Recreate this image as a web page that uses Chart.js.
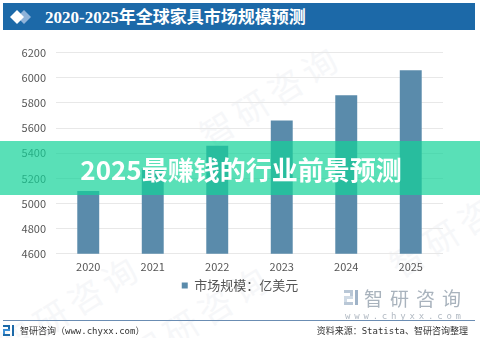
<!DOCTYPE html>
<html lang="zh-CN">
<head>
<meta charset="utf-8">
<title>2020-2025年全球家具市场规模预测</title>
<script src="https://cdn.jsdelivr.net/npm/chart.js@4/dist/chart.umd.min.js"></script>
<style>
  html, body { margin: 0; padding: 0; }
  body {
    width: 480px; height: 338px; position: relative; overflow: hidden;
    background: #fff; font-family: "Noto Sans CJK SC", "Noto Sans", sans-serif;
  }
  .title-bar {
    position: absolute; left: 3px; top: 3px; width: 472px; height: 27px;
    background: #1c69a8;
  }
  .title-bar svg { position: absolute; left: 7px; top: 7px; }
  .title-bar span {
    position: absolute; left: 42px; top: 0; line-height: 27px;
    color: #fff; font: bold 17px "Liberation Serif", "Noto Sans CJK SC", serif;
  }
  .wm {
    position: absolute; color: #f6f7f9; font-size: 34px; transform: rotate(-32deg);
    white-space: nowrap; letter-spacing: 6px;
  }
  #chart-wrap { position: absolute; left: 0; top: 36px; width: 480px; height: 266px; }
  .band {
    position: absolute; left: 0; top: 141px; width: 480px; height: 54px;
    background: rgba(18, 211, 152, 0.7);
    display: flex; align-items: center; justify-content: center;
  }
  .band span { color: #fff; font: bold 26px "Noto Sans CJK SC", sans-serif; margin-left: 2px; }
  .logo { position: absolute; left: 344px; top: 290px; }
  .logo-name {
    position: absolute; left: 364px; top: 288px; color: #a9b3bd;
    font-size: 19px; letter-spacing: 7px; line-height: 20px;
  }
  .logo-url {
    position: absolute; left: 345px; top: 311px; color: #b2bac3;
    font: 9px "DejaVu Sans Mono", monospace; letter-spacing: 3.8px;
  }
  .rule { position: absolute; left: 3px; top: 320px; width: 472px; height: 1px; background: #6b8db3; }
  .foot {
    position: absolute; top: 324px; line-height: 13px; color: #333;
    font: 9px "DejaVu Sans Mono", "Noto Sans CJK SC", monospace;
  }
</style>
</head>
<body>
  <div class="wm" style="left:-10px;top:280px;">智研咨询</div>
  <div class="wm" style="left:120px;top:290px;">智研咨询</div>
  <div class="wm" style="left:190px;top:70px;">智研咨询</div>
  <div class="wm" style="left:380px;top:200px;">智研咨询</div>

  <div class="title-bar">
    <svg width="26" height="14" viewBox="0 0 26 14">
      <polygon points="14,0 21,7 14,14 7,7" fill="#8fb3d9"/>
      <polygon points="7,0 14,7 7,14 0,7" fill="#fff"/>
    </svg>
    <span>2020-2025年全球家具市场规模预测</span>
  </div>

  <div id="chart-wrap"><canvas id="chart"></canvas></div>

  <svg class="logo" width="16" height="15" viewBox="0 0 16 15">
    <rect x="0" y="0" width="9" height="3" fill="#b9c7d6"/>
    <rect x="6" y="0" width="3" height="8" fill="#b9c7d6"/>
    <rect x="0" y="6" width="9" height="3" fill="#cfdae5"/>
    <rect x="0" y="6" width="3" height="9" fill="#cfdae5"/>
    <rect x="0" y="12" width="9" height="3" fill="#b9c7d6"/>
    <rect x="11" y="0" width="3" height="15" fill="#9fb3c8"/>
  </svg>
  <div class="logo-name">智研咨询</div>
  <div class="logo-url">www.chyxx.com</div>

  <div class="band"><span>2025最赚钱的行业前景预测</span></div>

  <div class="rule"></div>
  <svg style="position:absolute;left:3px;top:325px" width="12" height="11" viewBox="0 0 12 11">
    <rect x="0" y="0" width="7" height="2" fill="#1c69a8"/>
    <rect x="5" y="0" width="2" height="6" fill="#1c69a8"/>
    <rect x="0" y="4" width="7" height="2" fill="#3b8fd6"/>
    <rect x="0" y="4" width="2" height="7" fill="#3b8fd6"/>
    <rect x="0" y="9" width="7" height="2" fill="#1c69a8"/>
    <rect x="9" y="0" width="2" height="11" fill="#1c69a8"/>
  </svg>
  <div class="foot" style="left:20px;">智研咨询（www.chyxx.com）</div>
  <div class="foot" style="right:12px;">资料来源：Statista、智研咨询整理</div>

<script>
  'use strict';

  // ── Data ───────────────────────────────────────────────────────
  const years = ['2020', '2021', '2022', '2023', '2024', '2025'];
  const marketSize = [5100, 5280, 5460, 5660, 5860, 6060];   // 亿美元
  const seriesLabel = '市场规模：亿美元';
  const yMin = 4600;
  const yMax = 6200;
  const yStep = 200;

  // ── Chart ──────────────────────────────────────────────────────
  const tickFont = { family: '"Noto Sans CJK SC", sans-serif', size: 11 };

  new Chart(document.getElementById('chart').getContext('2d'), {
    type: 'bar',
    data: {
      labels: years,
      datasets: [{
        label: seriesLabel,
        data: marketSize,
        backgroundColor: '#5a8bab',
        borderWidth: 0,
        categoryPercentage: 1,
        barPercentage: 0.34,
      }],
    },
    options: {
      responsive: true,
      maintainAspectRatio: false,
      animation: false,
      layout: { padding: { left: 0, right: 0, top: 7, bottom: 0 } },
      plugins: {
        tooltip: { enabled: false },
        legend: {
          position: 'bottom',
          labels: {
            color: '#555',
            font: { family: '"Noto Sans CJK SC", sans-serif', size: 13 },
            boxWidth: 6,
            boxHeight: 6,
            padding: 0,
          },
        },
      },
      scales: {
        x: {
          grid: { display: false, drawTicks: false },
          border: { display: false },
          ticks: { color: '#555', font: tickFont, padding: 6 },
        },
        y: {
          min: yMin,
          max: yMax,
          ticks: {
            stepSize: yStep, color: '#555', font: tickFont, padding: 10,
            callback: v => String(v),
          },
          grid: { color: '#e8e8e8', drawTicks: false },
          border: { display: false },
          afterFit: scale => { scale.width = 56; },
        },
        // empty right-hand gutter so the plot ends where the reference does
        gutter: {
          position: 'right',
          display: true,
          grid: { display: false, drawTicks: false },
          border: { display: false },
          ticks: { display: false },
          afterFit: scale => { scale.width = 37; },
        },
      },
    },
  });
</script>
</body>
</html>
